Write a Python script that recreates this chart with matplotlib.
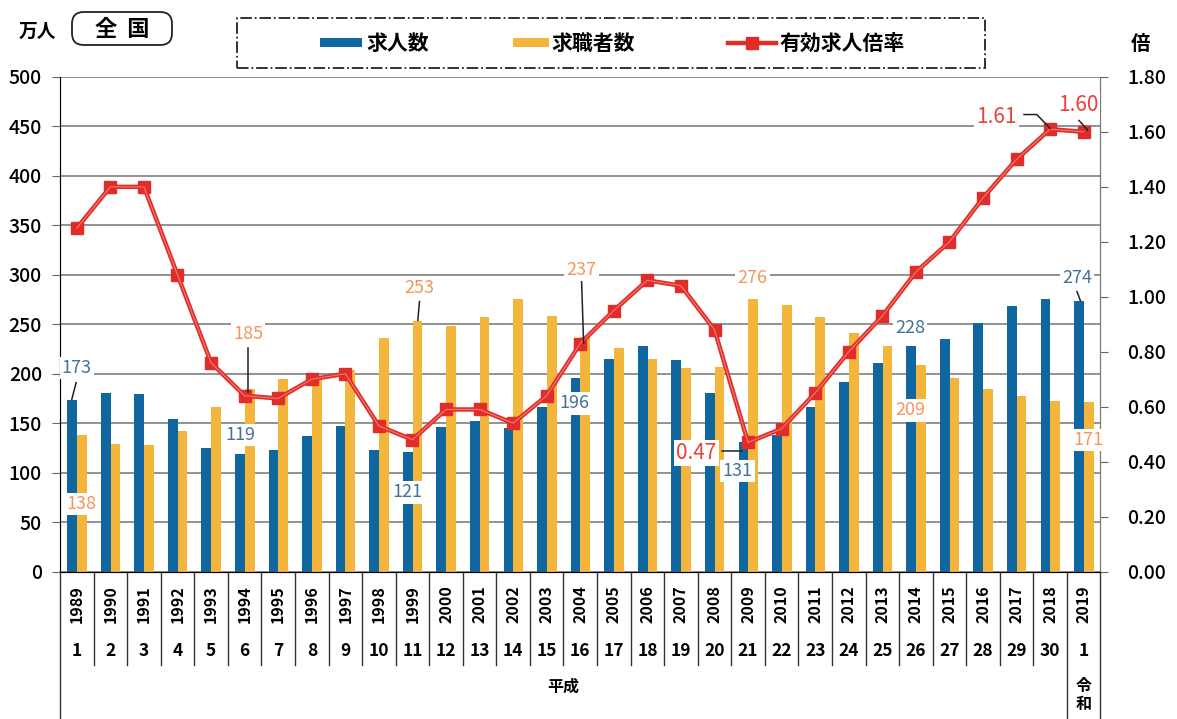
import matplotlib.pyplot as plt
import matplotlib.transforms as mtransforms
from matplotlib.patches import FancyBboxPatch, Rectangle
from matplotlib.lines import Line2D
import numpy as np

plt.rcParams['font.family'] = ['Noto Sans CJK JP', 'DejaVu Sans']

# data (万人 / 倍)
years = [str(y) for y in range(1989, 2020)]
era_nums = [str(i) for i in range(1, 31)] + ['1']
offers = [173, 181, 180, 154, 125, 119, 123, 137, 147, 123, 121, 146, 152, 145, 166,
          196, 215, 228, 214, 181, 131, 138, 166, 192, 211, 228, 235, 251, 268, 276, 274]
seekers = [138, 129, 128, 142, 166, 185, 195, 195, 204, 236, 253, 248, 257, 276, 258,
           237, 226, 215, 206, 207, 276, 269, 257, 241, 228, 209, 196, 185, 178, 172, 171]
ratio = [1.25, 1.40, 1.40, 1.08, 0.76, 0.64, 0.63, 0.70, 0.72, 0.53, 0.48, 0.59, 0.59,
         0.54, 0.64, 0.83, 0.95, 1.06, 1.04, 0.88, 0.47, 0.52, 0.65, 0.80, 0.93, 1.09,
         1.20, 1.36, 1.50, 1.61, 1.60]

BLUE = '#10679f'
YELLOW = '#f3b53b'
RED = '#e12d2a'
GRID = '#7f7f7f'
C_BLUE_LBL = '#44709c'
C_ORG_LBL = '#f5955f'
C_RED_LBL = '#e8423c'

# labels: text, x (category), y (left axis units), colour, size
labels = [
    ('173', 0.0, 206, C_BLUE_LBL, 13), ('138', 0.15, 68, C_ORG_LBL, 13),
    ('185', 5.1, 240, C_ORG_LBL, 13), ('119', 4.86, 138, C_BLUE_LBL, 13),
    ('121', 9.85, 80, C_BLUE_LBL, 13), ('253', 10.2, 287, C_ORG_LBL, 13),
    ('196', 14.83, 170, C_BLUE_LBL, 13), ('237', 15.04, 305, C_ORG_LBL, 13),
    ('276', 20.13, 297, C_ORG_LBL, 13), ('0.47', 18.46, 120, C_RED_LBL, 15),
    ('131', 19.68, 102, C_BLUE_LBL, 13), ('228', 24.83, 246, C_BLUE_LBL, 13),
    ('209', 24.83, 163, C_ORG_LBL, 13), ('274', 29.8, 297, C_BLUE_LBL, 13),
    ('171', 30.15, 133, C_ORG_LBL, 13), ('1.61', 27.4, 459, C_RED_LBL, 15),
    ('1.60', 29.83, 472, C_RED_LBL, 15),
]
leaders = [
    ([-0.02, -0.15], [191, 174]), ([5.1, 5.1], [226, 182]),
    ([10.21, 10.16], [273, 254]), ([15.04, 15.1], [293, 231]),
    ([19.23, 19.83], [122, 122]), ([29.8, 29.9], [283, 274]),
    ([28.22, 28.6, 29.0], [462, 462, 448]), ([29.86, 30.12], [456, 446]),
]


def main():
    fig = plt.figure(figsize=(11.77, 7.19), dpi=100)
    rect = [0.051, 0.205, 0.884, 0.688]
    ax = fig.add_axes(rect)
    x = np.arange(len(years))
    ax.bar(x - 0.14, offers, 0.29, color=BLUE, zorder=2)
    ax.bar(x + 0.15, seekers, 0.29, color=YELLOW, zorder=2)
    ax.set_xlim(-0.5, len(years) - 0.5)
    ax.set_ylim(0, 500)
    ax.set_yticks(range(0, 501, 50))
    ax.yaxis.grid(True, color=GRID, lw=1.2)
    ax.set_axisbelow(True)
    ax.set_xticks([])
    ax.tick_params(axis='y', labelsize=14, length=6, pad=7, color='#666')
    for t in ax.get_yticklabels():
        t.set_fontweight('medium')
    ax.spines['top'].set_visible(False)
    for s in ['left', 'right', 'bottom']:
        ax.spines[s].set_color('#777')

    ax2 = ax.twinx()
    ax2.plot(x, ratio, color=RED, lw=3.2, marker='s', ms=9, zorder=3)
    ax2.plot(x, ratio, color='#f07a70', lw=0.8, zorder=3)
    ax2.set_ylim(0, 1.8)
    ax2.set_yticks(np.arange(0, 1.81, 0.2))
    ax2.set_yticklabels(['%.2f' % v for v in np.arange(0, 1.81, 0.2)])
    ax2.tick_params(axis='y', labelsize=14, length=6, pad=13, color='#666')
    for t in ax2.get_yticklabels():
        t.set_fontweight('medium')
    ax2.spines['top'].set_visible(False)
    ax2.spines['right'].set_color('#777')

    # overlay for data labels
    ax3 = fig.add_axes(rect)
    ax3.set_xlim(ax.get_xlim())
    ax3.set_ylim(0, 500)
    ax3.axis('off')
    for txt, lx, ly, col, fs in labels:
        ax3.text(lx, ly, txt, color=col, fontsize=fs, ha='center', va='center',
                 bbox=dict(fc='white', ec='none', pad=1.5), clip_on=False)
    for lx, ly in leaders:
        ax3.plot(lx, ly, color='#222', lw=1.1, clip_on=False)

    # category table under the axis
    tr = mtransforms.blended_transform_factory(ax.transData, ax.transAxes)
    for i in range(len(years)):
        ax.text(i, -0.066, years[i], transform=tr, rotation=90, ha='center',
                va='center', fontsize=11.5, fontweight='bold')
        ax.text(i, -0.16, era_nums[i], transform=tr, ha='center', va='center',
                fontsize=12.5, fontweight='bold')
    for i in range(len(years) + 1):
        b = i - 0.5
        low = -0.297 if b in (-0.5, 29.5, 30.5) else -0.188
        ax.add_line(Line2D([b, b], [0, low], transform=tr, color='#333', lw=1.0,
                           clip_on=False))
    ax.text(14.5, -0.232, '平成', transform=tr, ha='center', va='center',
            fontsize=11.5, fontweight='bold')
    ax.text(30, -0.25, '令\n和', transform=tr, ha='center', va='center',
            fontsize=11.5, fontweight='bold', linespacing=1.15)

    # header
    fig.text(0.032, 0.957, '万人', ha='center', va='center', fontsize=13.5, fontweight='bold')
    box = FancyBboxPatch((72 / 1177, 1 - 45 / 719), 100 / 1177, 33 / 719,
                         boxstyle='round,pad=0,rounding_size=0.01',
                         mutation_aspect=1177 / 719, transform=fig.transFigure,
                         fc='white', ec='#222', lw=1.3)
    fig.patches.append(box)
    fig.text(122 / 1177, 1 - 29 / 719, '全  国', ha='center', va='center',
             fontsize=16, fontweight='bold')
    fig.text(1141 / 1177, 1 - 44 / 719, '倍', ha='center', va='center',
             fontsize=14, fontweight='bold')

    # legend
    fig.patches.append(Rectangle((237 / 1177, 1 - 68 / 719), 748 / 1177, 50 / 719,
                                 transform=fig.transFigure, fill=False, ec='#222',
                                 lw=1.3, ls='-.'))
    ly = 1 - 43 / 719
    fig.patches.append(Rectangle((320 / 1177, ly - 4 / 719), 42 / 1177, 9 / 719,
                                 transform=fig.transFigure, fc=BLUE, ec='none'))
    fig.text(366 / 1177, ly, '求人数', va='center', fontsize=15, fontweight='bold')
    fig.patches.append(Rectangle((513 / 1177, ly - 4 / 719), 36 / 1177, 9 / 719,
                                 transform=fig.transFigure, fc=YELLOW, ec='none'))
    fig.text(551 / 1177, ly, '求職者数', va='center', fontsize=15, fontweight='bold')
    fig.lines.append(Line2D([728 / 1177, 776 / 1177], [ly, ly], transform=fig.transFigure,
                            color=RED, lw=3.2))
    fig.lines.append(Line2D([752 / 1177], [ly], transform=fig.transFigure, color=RED,
                            marker='s', ms=9))
    fig.text(779 / 1177, ly, '有効求人倍率', va='center', fontsize=15, fontweight='bold')

    fig.savefig('out.png', dpi=100)


if __name__ == '__main__':
    main()
